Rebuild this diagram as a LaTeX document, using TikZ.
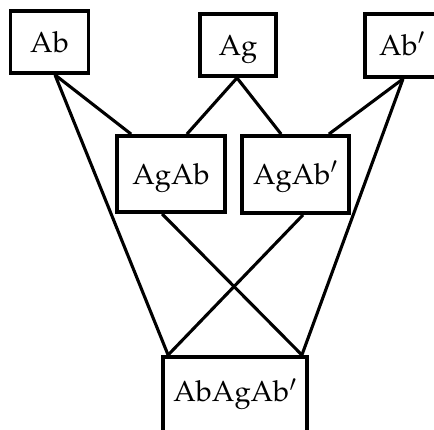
\documentclass[tikz,border=0pt]{standalone}
\usepackage[T1]{fontenc}
\usepackage{mathpazo}
\usetikzlibrary{calc}
\tikzset{
  box/.style={draw, line width=3.8pt, inner sep=0pt, text height=20pt, text depth=0pt,
    font=\fontsize{29}{34}\selectfont},
  link/.style={line width=3.1pt}
}
\begin{document}
\begin{tikzpicture}[x=1pt,y=-1pt]
\clip (0,0) rectangle (434,429);
\node[box, minimum width=78pt, minimum height=62pt] (Ab) at (49.5,42) {Ab};
\node[box, minimum width=76pt, minimum height=62pt] (Ag) at (238,45) {Ag};
\node[box, minimum width=74pt, minimum height=63pt] (Abp) at (402,45.5) {Ab$'$};
\node[box, minimum width=108pt, minimum height=76pt] (AgAb) at (171,174) {AgAb};
\node[box, minimum width=107pt, minimum height=77pt] (AgAbp) at (295.5,174.5) {AgAb$'$};
\node[box, anchor=north, minimum width=144pt, text depth=60pt, inner ysep=25pt] (All) at (235,355) {AbAgAb$'$};
\coordinate (abS) at ($(Ab.south)+(5.5,0)$);
\coordinate (agS) at ($(Ag.south)+(-1,0)$);
\coordinate (abpS) at ($(Abp.south)+(1,0)$);
\coordinate (agabN1) at ($(AgAb.north west)+(16,0)$);
\coordinate (agabN2) at ($(AgAb.north east)+(-40,0)$);
\coordinate (agabS) at ($(AgAb.south west)+(47,0)$);
\coordinate (agabpN1) at ($(AgAbp.north west)+(41,0)$);
\coordinate (agabpN2) at ($(AgAbp.north east)+(-22,0)$);
\coordinate (agabpS) at ($(AgAbp.south)+(7.5,0)$);
\coordinate (allL) at ($(All.north west)+(7,0)$);
\coordinate (allR) at ($(All.north east)+(-7,0)$);
\draw[link] (abS) -- (agabN1);
\draw[link] (abS) -- (allL);
\draw[link] (agS) -- (agabN2);
\draw[link] (agS) -- (agabpN1);
\draw[link] (abpS) -- (agabpN2);
\draw[link] (abpS) -- (allR);
\draw[link] (agabS) -- (allR);
\draw[link] (agabpS) -- (allL);
\end{tikzpicture}
\end{document}
